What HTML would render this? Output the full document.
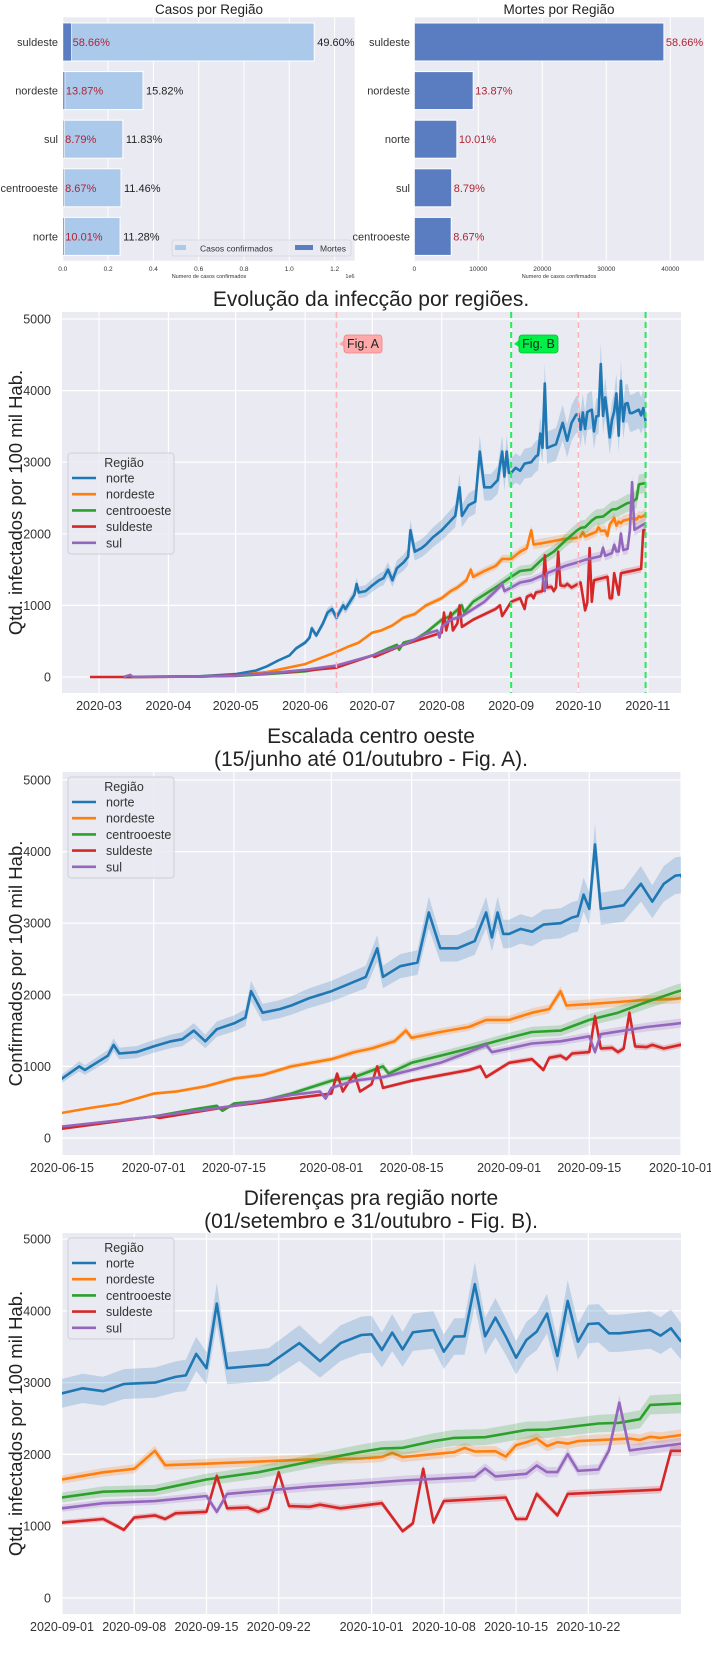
<!DOCTYPE html>
<html><head><meta charset="utf-8">
<style>
html,body{margin:0;padding:0;background:#fff;}
svg{display:block;font-family:"Liberation Sans",sans-serif;}
</style></head>
<body>
<svg id="root" width="711" height="1676" viewBox="0 0 711 1676" xmlns="http://www.w3.org/2000/svg">
<defs>
<clipPath id="clip2"><rect x="62" y="312" width="619" height="381"/></clipPath>
<clipPath id="clip3"><rect x="62" y="772" width="619" height="383"/></clipPath>
<clipPath id="clip4"><rect x="62" y="1233" width="619" height="381"/></clipPath>
</defs>
</svg>
<script>
// ---------- bar chart data ----------
const casosRegions = ["suldeste","nordeste","sul","centrooeste","norte"];
const casosValues = [1.11, 0.354, 0.265, 0.257, 0.253]; // x1e6
const casosPct = ["49.60%","15.82%","11.83%","11.46%","11.28%"];
const casosDeaths = [0.039, 0.0092, 0.0058, 0.0058, 0.0066]; // x1e6
const casosDeathPct = ["58.66%","13.87%","8.79%","8.67%","10.01%"];
const casosTicks = [0,0.2,0.4,0.6,0.8,1.0,1.2];

const mortesRegions = ["suldeste","nordeste","norte","sul","centrooeste"];
const mortesValues = [39000, 9200, 6650, 5850, 5770];
const mortesPct = ["58.66%","13.87%","10.01%","8.79%","8.67%"];
const mortesTicks = [0,10000,20000,30000,40000];

// ---------- line chart data ----------
const norteDates = ["03-12","04-01","04-15","05-01","05-10","05-15","05-20","05-25","05-28","06-01","06-03","06-04","06-06","06-09","06-11","06-13","06-15","06-18","06-19","06-21","06-23","06-24","06-25","06-28","07-01","07-04","07-06","07-08","07-10","07-12","07-15","07-17","07-18","07-20","07-23","07-25","07-28","08-01","08-04","08-07","08-09","08-10","08-13","08-16","08-18","08-20","08-23","08-26","08-28","08-29","08-30","08-31","09-01","09-03","09-05","09-07","09-10","09-12","09-13","09-14","09-15","09-16","09-17","09-21","09-23","09-24","09-26","09-28","09-30","10-01","10-02","10-03","10-04","10-05","10-06","10-07","10-08","10-09","10-10","10-11","10-12","10-13","10-14","10-15","10-16","10-17","10-18","10-19","10-20","10-21","10-22","10-23","10-24","10-25","10-28","10-29","10-30","10-31"];
const norteVals = [0,5,10,40,90,150,230,300,400,480,550,680,580,750,900,950,830,1000,950,1050,1150,1300,1180,1200,1280,1350,1380,1500,1350,1520,1600,1680,2050,1750,1800,1850,1950,2050,2150,2250,2650,2250,2400,2450,3150,2650,2650,2750,3150,2800,3150,2850,2850,2920,2880,2980,3000,3080,3100,3400,3200,4100,3200,3250,3450,3550,3300,3550,3663,3673,3454,3696,3463,3700,3719,3733,3430,3640,3645,4370,3645,3905,3640,3347,3593,3710,3961,3370,4137,3570,3816,3826,3686,3686,3733,3654,3756,3570];

const nordesteDates = ["03-12","04-15","05-01","05-15","06-01","06-15","06-20","06-25","07-01","07-05","07-10","07-15","07-20","07-25","08-01","08-05","08-08","08-10","08-12","08-14","08-15","08-20","08-25","08-28","09-01","09-05","09-08","09-10","09-11","09-15","09-20","09-25","09-30","10-02","10-03","10-04","10-09","10-10","10-11","10-13","10-14","10-15","10-16","10-17","10-18","10-19","10-20","10-21","10-26","10-27","10-28","10-29","10-31"];
const nordesteVals = [0,5,20,70,180,350,420,480,620,650,720,830,880,1000,1100,1200,1250,1300,1350,1500,1400,1480,1550,1650,1650,1750,1800,2050,1850,1870,1900,1930,1943,1962,2022,1962,2030,2090,2040,2045,1970,2130,2170,2220,2115,2170,2150,2185,2220,2200,2245,2230,2270];

const centroDates = ["03-12","05-01","05-15","06-01","06-15","07-01","07-08","07-12","07-13","07-15","07-20","07-25","08-01","08-05","08-10","08-11","08-15","08-20","08-25","09-01","09-05","09-10","09-15","09-20","09-25","09-30","10-02","10-04","10-07","10-09","10-12","10-16","10-18","10-23","10-25","10-27","10-28","10-31"];
const centroVals = [0,15,40,80,150,300,400,450,380,480,520,620,800,850,1000,900,1050,1150,1250,1400,1480,1500,1650,1750,1900,2036,2082,2092,2185,2230,2240,2340,2345,2430,2440,2490,2690,2710];

const suldesteDates = ["02-26","03-15","04-15","05-01","05-15","06-01","06-15","07-01","07-02","07-15","07-25","08-01","08-02","08-03","08-05","08-06","08-08","08-09","08-10","08-15","08-25","08-27","08-28","09-01","09-05","09-07","09-08","09-10","09-11","09-12","09-15","09-16","09-17","09-19","09-20","09-21","09-22","09-23","09-25","09-26","09-28","10-02","10-04","10-05","10-06","10-07","10-08","10-14","10-15","10-16","10-17","10-19","10-20","10-29","10-30","10-31"];
const suldesteVals = [0,0,5,25,50,90,130,300,280,450,550,620,900,650,900,650,750,1000,700,800,950,1000,850,1050,1100,950,1120,1150,1100,1180,1200,1700,1250,1260,1200,1250,1750,1280,1270,1300,1250,1320,930,1040,1800,1050,1350,1400,1100,1100,1450,1150,1450,1510,2050,2050];

const sulDates = ["03-12","03-15","03-16","04-15","05-01","05-15","06-01","06-15","07-01","07-15","07-25","07-30","07-31","08-01","08-05","08-10","08-15","08-20","08-25","08-28","08-29","09-01","09-05","09-10","09-15","09-16","09-17","09-25","09-30","10-04","10-11","10-12","10-13","10-16","10-17","10-18","10-19","10-20","10-21","10-23","10-24","10-25","10-26","10-31"];
const sulVals = [0,30,0,5,20,50,100,160,300,450,600,650,550,700,800,850,950,1050,1200,1300,1200,1250,1320,1350,1420,1200,1450,1550,1595,1637,1688,1804,1693,1730,1846,1753,1753,2004,1772,1790,2056,2720,2056,2150];

const yTicks = [0,1000,2000,3000,4000,5000];
const ticks2 = ["2020-03","2020-04","2020-05","2020-06","2020-07","2020-08","2020-09","2020-10","2020-11"];
const ticks3 = ["2020-06-15","2020-07-01","2020-07-15","2020-08-01","2020-08-15","2020-09-01","2020-09-15","2020-10-01"];
const ticks4 = ["2020-09-01","2020-09-08","2020-09-15","2020-09-22","2020-10-01","2020-10-08","2020-10-15","2020-10-22"];

const NS="http://www.w3.org/2000/svg";
const root=document.getElementById('root');
function mk(tag,attrs,parent,txt){const e=document.createElementNS(NS,tag);for(const k in attrs)e.setAttribute(k,attrs[k]);if(txt!==undefined)e.textContent=txt;(parent||root).appendChild(e);return e;}
function day(s){const p=s.split('-').map(Number);let y=2020,m,d;if(p.length===3){y=p[0];m=p[1];d=p[2];}else if(p.length===2&&p[0]>1000){y=p[0];m=p[1];d=1;}else{m=p[0];d=p[1];}return Date.UTC(y,m-1,d)/864e5-Date.UTC(2020,2,1)/864e5;}

// ---------- Casos por Região ----------
(function(){
 const g=mk('g',{});
 
 const L=62.8,R=354.7,T=17.3,B=260.7;
 const x=v=>L+v*226.5;
 const bg=mk('rect',{x:L,y:T,width:R-L,height:B-T,fill:'#eaeaf2'},g);
 
 casosTicks.forEach(t=>{
  mk('line',{x1:x(t),x2:x(t),y1:T,y2:B,stroke:'#fff','stroke-width':1},g);
  const tl=mk('text',{x:x(t),y:271,'font-size':6.5,'text-anchor':'middle',fill:'#333'},g,t.toFixed(1));
  
 });
 const at=mk('text',{x:209,y:278,'font-size':5.5,'text-anchor':'middle',fill:'#333'},g,'Numero de casos confirmados');
 
 mk('text',{x:350,y:278,'font-size':5.5,'text-anchor':'middle',fill:'#333'},g,'1e6');
 const tt=mk('text',{x:209,y:14,'font-size':13.5,'text-anchor':'middle',fill:'#222'},g,'Casos por Região');
 
 casosRegions.forEach((r,i)=>{
  const yc=42+i*48.6;
  const b=mk('rect',{x:L,y:yc-19,width:x(casosValues[i])-L,height:38,fill:'#abc9ea',stroke:'#fff','stroke-width':1},g);
  
  const d=mk('rect',{x:L,y:yc-19,width:x(casosDeaths[i])-L,height:38,fill:'#5a7dc1',stroke:'#fff','stroke-width':0.8},g);
  
  const lb=mk('text',{x:58,y:yc+4,'font-size':11,'text-anchor':'end',fill:'#333'},g,r);
  
  const pv=mk('text',{x:x(casosValues[i])+3,y:yc+4,'font-size':11,fill:'#222'},g,casosPct[i]);
  
  const pd=mk('text',{x:x(casosDeaths[i])+1,y:yc+4,'font-size':11,fill:'#b22234'},g,casosDeathPct[i]);
  
 });
 const lg=mk('g',{},g);
 
 mk('rect',{x:172,y:240,width:179,height:16,rx:2,fill:'#eaeaf2',stroke:'#ccc','stroke-width':0.6,'fill-opacity':0.8},lg);
 mk('rect',{x:175,y:245,width:11,height:5,fill:'#abc9ea'},lg);
 mk('text',{x:200,y:251.5,'font-size':8.5,fill:'#333'},lg,'Casos confirmados');
 mk('rect',{x:295,y:245,width:18,height:5,fill:'#5a7dc1'},lg);
 mk('text',{x:320,y:251.5,'font-size':8.5,fill:'#333'},lg,'Mortes');
})();

// ---------- Mortes por Região ----------
(function(){
 const g=mk('g',{});
 
 const L=414.3,R=704,T=17.3,B=260.7;
 const x=v=>L+v*0.0064;
 const bg=mk('rect',{x:L,y:T,width:R-L,height:B-T,fill:'#eaeaf2'},g);
 
 mortesTicks.forEach(t=>{
  mk('line',{x1:x(t),x2:x(t),y1:T,y2:B,stroke:'#fff','stroke-width':1},g);
  const tl=mk('text',{x:x(t),y:271,'font-size':6.5,'text-anchor':'middle',fill:'#333'},g,String(t));
  
 });
 const at=mk('text',{x:559,y:278,'font-size':5.5,'text-anchor':'middle',fill:'#333'},g,'Numero de casos confirmados');
 
 const tt=mk('text',{x:559,y:14,'font-size':13.5,'text-anchor':'middle',fill:'#222'},g,'Mortes por Região');
 
 mortesRegions.forEach((r,i)=>{
  const yc=42+i*48.6;
  const b=mk('rect',{x:L,y:yc-19,width:x(mortesValues[i])-L,height:38,fill:'#5a7dc1',stroke:'#fff','stroke-width':1},g);
  
  const lb=mk('text',{x:410,y:yc+4,'font-size':11,'text-anchor':'end',fill:'#333'},g,r);
  
  const pv=mk('text',{x:x(mortesValues[i])+2,y:yc+4,'font-size':11,fill:'#b22234'},g,mortesPct[i]);
  
 });
})();

// ---------- line charts ----------
const series=[
 {name:'norte',color:'#1f77b4',d:norteDates,v:norteVals,band:0.07},
 {name:'nordeste',color:'#ff7f0e',d:nordesteDates,v:nordesteVals,band:0.035},
 {name:'centrooeste',color:'#2ca02c',d:centroDates,v:centroVals,band:0.05},
 {name:'suldeste',color:'#d62728',d:suldesteDates,v:suldesteVals,band:0.035},
 {name:'sul',color:'#9467bd',d:sulDates,v:sulVals,band:0.04}
];
function lineChart(c){
 const g=mk('g',{});
 
 const x=dd=>c.x0+(dd-c.d0)*c.ppd;
 const y=v=>c.y0-v*c.ppv;
 const bg=mk('rect',{x:c.L,y:c.T,width:c.R-c.L,height:c.B-c.T,fill:'#eaeaf2'},g);
 
 yTicks.forEach(t=>{
  mk('line',{x1:c.L,x2:c.R,y1:y(t),y2:y(t),stroke:'#fff','stroke-width':1.2},g);
  const tl=mk('text',{x:51,y:y(t)+4.5,'font-size':12.5,'text-anchor':'end',fill:'#333'},g,String(t));
  
 });
 c.ticks.forEach(t=>{
  const xx=x(day(t));
  mk('line',{x1:xx,x2:xx,y1:c.T,y2:c.B,stroke:'#fff','stroke-width':1.2},g);
  const tl=mk('text',{x:xx,y:c.B+17,'font-size':12.5,'text-anchor':'middle',fill:'#333'},g,t);
  
 });
 const pg=mk('g',{'clip-path':'url(#'+c.clip+')'},g);
 series.forEach(s=>{
  const pts=s.d.map((d,i)=>[x(day(d)),s.v[i]]);
  const up=pts.map(p=>p[0].toFixed(1)+','+y(p[1]*(1+s.band)).toFixed(1));
  const lo=pts.map(p=>p[0].toFixed(1)+','+y(p[1]*(1-s.band)).toFixed(1)).reverse();
  const band=mk('polygon',{points:up.concat(lo).join(' '),fill:s.color,'fill-opacity':0.22},pg);
  
  const ln=mk('polyline',{points:pts.map(p=>p[0].toFixed(1)+','+y(p[1]).toFixed(1)).join(' '),fill:'none',stroke:s.color,'stroke-width':2.6,'stroke-linejoin':'round'},pg);
  
 });
 (c.vlines||[]).forEach(v=>{
  const xx=x(day(v.d));
  const l=mk('line',{x1:xx,x2:xx,y1:c.T,y2:c.B,stroke:v.c,'stroke-width':v.w,'stroke-dasharray':'6,4'},g);
  
 });
 c.title.forEach((t,i)=>{
  const tt=mk('text',{x:371,y:c.titleY+i*23,'font-size':21,'text-anchor':'middle',fill:'#222'},g,t);
  
 });
 const yt=mk('text',{x:0,y:0,'font-size':18.5,'text-anchor':'middle',fill:'#222',transform:'translate(22,'+((c.T+c.B)/2)+') rotate(-90)'},g,c.ylab);
 
 const lg=mk('g',{},g);
 
 mk('rect',{x:68,y:c.legY,width:106,height:101,rx:3,fill:'#eaeaf2','fill-opacity':0.85,stroke:'#cfcfd8','stroke-width':1},lg);
 mk('text',{x:124,y:c.legY+14,'font-size':12.5,'text-anchor':'middle',fill:'#333'},lg,'Região');
 series.forEach((s,i)=>{
  const yy=c.legY+25+i*16.2;
  const e=mk('g',{},lg);
  
  mk('line',{x1:72,x2:96,y1:yy,y2:yy,stroke:s.color,'stroke-width':2.6},e);
  mk('text',{x:106,y:yy+4.5,'font-size':12.5,fill:'#333'},e,s.name);
 });
 return {g,x,y};
}

lineChart({id:'evolucao-chart',L:62,R:681,T:312,B:693,x0:99,d0:0,ppd:2.24,y0:677,ppv:0.0716,ticks:ticks2,clip:'clip2',
 title:['Evolução da infecção por regiões.'],titleY:306,ylab:'Qtd. infectados por 100 mil Hab.',legY:453,
 vlines:[{d:'06-15',c:'#ffb3b8',w:1.5,n:'fig-a-start-line'},{d:'10-01',c:'#ffb3b8',w:1.5,n:'fig-a-end-line'},{d:'09-01',c:'#22ee55',w:2,n:'fig-b-start-line'},{d:'10-31',c:'#22ee55',w:2,n:'fig-b-end-line'}]});
(function(){
 const a=mk('g',{});
 
 mk('path',{d:'M344,340 L339,344 L344,347 Z',fill:'#ffaaaa'},a);
 mk('rect',{x:344,y:335,width:38,height:18,rx:3,fill:'#ffaaaa',stroke:'#f08080','stroke-width':0.8},a);
 mk('text',{x:363,y:348,'font-size':12.5,'text-anchor':'middle',fill:'#222'},a,'Fig. A');
 const b=mk('g',{});
 
 mk('path',{d:'M519,340 L514,344 L519,347 Z',fill:'#00ee44'},b);
 mk('rect',{x:519,y:335,width:39,height:18,rx:3,fill:'#00f048',stroke:'#00c030','stroke-width':0.8},b);
 mk('text',{x:538.5,y:348,'font-size':12.5,'text-anchor':'middle',fill:'#222'},b,'Fig. B');
})();

lineChart({id:'escalada-chart',L:62,R:681,T:772,B:1155,x0:62,d0:day('06-15'),ppd:619/108,y0:1138,ppv:0.0716,ticks:ticks3,clip:'clip3',
 title:['Escalada centro oeste','(15/junho até 01/outubro - Fig. A).'],titleY:743,ylab:'Confirmados por 100 mil Hab.',legY:777});

lineChart({id:'diferencas-chart',L:62,R:681,T:1233,B:1614,x0:62,d0:day('09-01'),ppd:10.32,y0:1598,ppv:0.0718,ticks:ticks4,clip:'clip4',
 title:['Diferenças pra região norte','(01/setembro e 31/outubro - Fig. B).'],titleY:1205,ylab:'Qtd. infectados por 100 mil Hab.',legY:1238});
</script>
</body></html>
